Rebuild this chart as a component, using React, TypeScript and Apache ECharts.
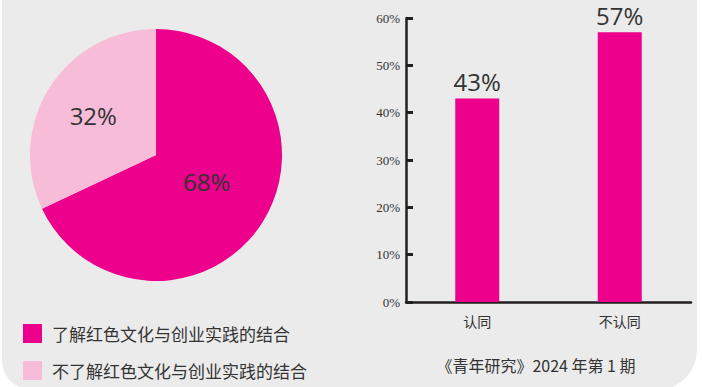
import React, { useEffect, useRef } from "react";
import * as echarts from "echarts";

const pieNames = ["了解红色文化与创业实践的结合", "不了解红色文化与创业实践的结合"];
const pieValues = [68, 32];
const pieColors = ["#ec008c", "#f7bcd8"];

const barCategories = ["认同", "不认同"];
const barValues = [43, 57];
const barColor = "#ec008c";

const sourceText = "《青年研究》2024 年第 1 期";

const CJK = '"Noto Sans CJK SC", "Noto Sans", sans-serif';
const NUM = '"Open Sans", "Noto Sans", sans-serif';
const AXIS_COLOR = "#231f20";
const pieLabelOffsets = [[-5, -9], [-7, -4]];

export default function App() {
  const ref = useRef<HTMLDivElement>(null);
  useEffect(() => {
    document.body.style.margin = "0";
    if (!ref.current) return;
    const chart = echarts.init(ref.current, null, { renderer: "svg" });
    chart.setOption({
      animation: false,
      backgroundColor: "#ffffff",
      graphic: [
        {
          type: "rect",
          silent: true,
          z: -10,
          shape: { x: 2, y: -20, width: 695, height: 410, r: [0, 0, 40, 30] },
          style: { fill: "#ebebeb" },
        },
        {
          type: "text",
          silent: true,
          x: 536,
          y: 365,
          style: {
            text: sourceText,
            font: `16px ${CJK}`,
            fill: "#333333",
            align: "center",
            verticalAlign: "middle",
          },
        },
      ],
      legend: {
        orient: "vertical",
        left: 23,
        top: 324,
        padding: 0,
        itemWidth: 19,
        itemHeight: 19,
        itemGap: 18,
        icon: "rect",
        selectedMode: false,
        data: pieNames,
        textStyle: {
          fontFamily: CJK,
          fontSize: 17,
          color: "#333333",
          lineHeight: 19,
          padding: [0, 0, 0, 5],
        },
      },
      grid: { left: 406, right: 11, top: 18, bottom: 85, containLabel: false },
      xAxis: {
        type: "category",
        data: barCategories,
        axisLine: { lineStyle: { color: AXIS_COLOR, width: 2.5 } },
        axisTick: { inside: true, length: 7, lineStyle: { color: AXIS_COLOR, width: 3 } },
        axisLabel: { fontFamily: CJK, fontSize: 14, color: "#333333", margin: 12 },
      },
      yAxis: {
        type: "value",
        min: 0,
        max: 60,
        interval: 10,
        axisLine: { show: true, lineStyle: { color: AXIS_COLOR, width: 2.5 } },
        axisTick: { show: true, inside: true, length: 7, lineStyle: { color: AXIS_COLOR, width: 3 } },
        splitLine: { show: false },
        axisLabel: {
          formatter: "{value}%",
          fontFamily: '"Liberation Serif", "DejaVu Serif", serif',
          fontSize: 13,
          color: "#333333",
          margin: 6,
        },
      },
      series: [
        {
          type: "pie",
          center: [156, 155],
          radius: 126,
          startAngle: 90,
          clockwise: true,
          data: pieNames.map((n, i) => ({
            name: n,
            value: pieValues[i],
            itemStyle: { color: pieColors[i] },
            label: { offset: pieLabelOffsets[i] },
          })),
          label: {
            show: true,
            position: "inside",
            formatter: "{c}%",
            fontFamily: NUM,
            fontSize: 24,
            color: "#333333",
          },
          labelLine: { show: false },
          emphasis: { disabled: true },
        },
        {
          type: "bar",
          data: barValues,
          barWidth: 44,
          itemStyle: { color: barColor },
          label: {
            show: true,
            position: "top",
            distance: 5,
            formatter: "{c}%",
            fontFamily: NUM,
            fontSize: 24,
            lineHeight: 24,
            color: "#333333",
          },
          emphasis: { disabled: true },
        },
      ],
    });
    return () => chart.dispose();
  }, []);
  return (
    <div style={{ position: "relative", width: 702, height: 387 }}>
      <div ref={ref} style={{ width: 702, height: 387 }} />
    </div>
  );
}
